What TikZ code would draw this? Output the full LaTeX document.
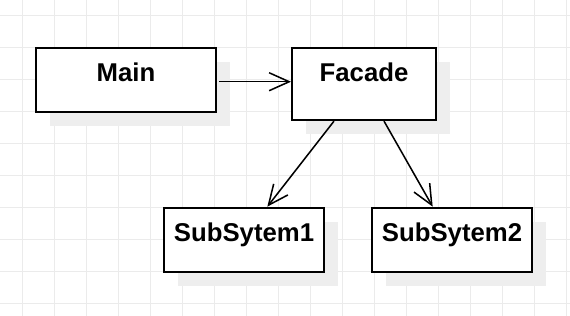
\documentclass[tikz,border=0pt]{standalone}
\usepackage{fontspec}
\setmainfont{Liberation Sans}
\usetikzlibrary{arrows.meta, shadows}
\definecolor{gridgray}{HTML}{EBEBEB}
\definecolor{shadowgray}{HTML}{EEEEEE}
\begin{document}
\begin{tikzpicture}[x=0.75pt, y=-0.75pt,
	gridline/.style={draw=gridgray, line width=0.75pt},
	classbox/.style={draw, line width=1.5pt, fill=white, inner xsep=0pt, inner ysep=0pt,
		text height=25.3pt, font=\fontsize{19.3pt}{22pt}\selectfont\bfseries,
		drop shadow={shadow xshift=10.5pt, shadow yshift=-10.5pt, fill=shadowgray, opacity=1}},
	assoc/.style={line width=1.15pt, -{Straight Barb[length=15pt, width=13.5pt]}}]
	% Background grid:
	\useasboundingbox (0, 0) rectangle (570, 316);
	\fill[white] (0, 0) rectangle (570, 316);
	\foreach \gx in {22.7, 54.7, ..., 570} \draw[gridline] (\gx, 0) -- (\gx, 316);
	\foreach \gy in {16, 48, ..., 316} \draw[gridline] (0, \gy) -- (570, \gy);
	% Classes:
	\node[classbox, minimum width=135pt, text depth=22.7pt] (main) at (126, 80){Main};
	\node[classbox, minimum width=108pt, text depth=28.9pt] (facade) at (364, 84){Facade};
	\node[classbox, minimum width=120pt, text depth=23.2pt] (subsysA) at (244, 240){SubSytem1};
	\node[classbox, minimum width=120pt, text depth=23.2pt] (subsysB) at (452, 240){SubSytem2};
	% Associations:
	\draw[assoc] ([xshift=1.5pt, yshift=-1.3pt]main.east) -- ([yshift=-1.3pt]main.east -| facade.west);
	\draw[assoc] ([xshift=-22.5pt]facade.south) -- ([xshift=17.5pt]subsysA.north);
	\draw[assoc] ([xshift=15pt]facade.south) -- ([xshift=-14.5pt]subsysB.north);
\end{tikzpicture}
\end{document}
